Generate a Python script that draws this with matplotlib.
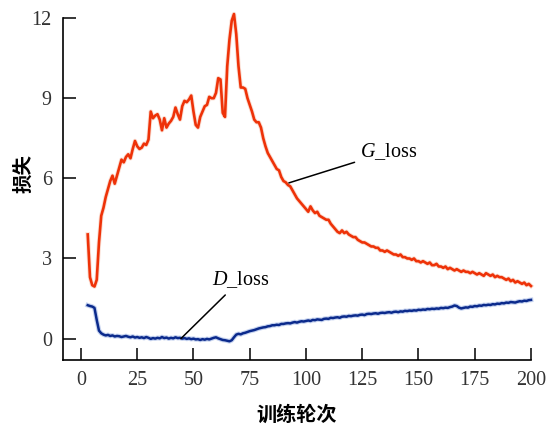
import matplotlib
matplotlib.use("Agg")
import matplotlib.pyplot as plt

plt.rcParams['font.family'] = ['Liberation Serif', 'Noto Sans CJK SC']
plt.rcParams['mathtext.fontset'] = 'custom'
plt.rcParams['mathtext.it'] = 'Liberation Serif:italic'
plt.rcParams['mathtext.rm'] = 'Liberation Serif'

epochs = list(range(3, 201))

g_loss = [
    3.9, 2.3, 2.0, 1.95, 2.2, 3.6, 4.6, 4.9, 5.3, 5.6,          # 3-12
    5.9, 6.1, 5.8, 6.1, 6.4, 6.7, 6.6, 6.8, 6.9, 6.75,          # 13-22
    7.1, 7.4, 7.2, 7.1, 7.15, 7.3, 7.25, 7.45, 8.5, 8.25,        # 23-32
    8.35, 8.4, 8.2, 7.8, 8.25, 7.9, 8.05, 8.15, 8.3, 8.65,      # 33-42
    8.4, 8.2, 8.7, 8.9, 8.85, 8.95, 9.1, 8.5, 8.0, 7.9,         # 43-52
    8.3, 8.5, 8.7, 8.75, 9.05, 9.0, 9.0, 9.2, 9.75, 9.7,        # 53-62
    8.45, 8.3, 10.2, 11.2, 11.9, 12.15, 11.4, 10.2, 9.4, 9.4,   # 63-72
    9.35, 9.0, 8.75, 8.5, 8.2, 8.1, 8.1, 7.9, 7.5, 7.2,         # 73-82
    6.95, 6.8, 6.65, 6.5, 6.35, 6.3, 6.05, 5.9, 5.85, 5.75,     # 83-92
    5.7, 5.55, 5.4, 5.25, 5.15, 5.05, 4.95, 4.85, 4.75, 4.95,   # 93-102
    4.8, 4.7, 4.75, 4.6, 4.55, 4.5, 4.45, 4.45, 4.3, 4.2,       # 103-112
    4.1, 4.0, 3.95, 4.05, 3.95, 4.0, 3.9, 3.85, 3.8, 3.8,       # 113-122
    3.7, 3.65, 3.6, 3.6, 3.55, 3.5, 3.45, 3.45, 3.4, 3.4,       # 123-132
    3.3, 3.3, 3.25, 3.3, 3.25, 3.2, 3.15, 3.15, 3.1, 3.15,      # 133-142
    3.05, 3.05, 3.0, 3.0, 2.95, 3.0, 2.9, 2.9, 2.85, 2.9,       # 143-152
    2.85, 2.8, 2.85, 2.75, 2.75, 2.8, 2.7, 2.7, 2.65, 2.7,      # 153-162
    2.6, 2.65, 2.6, 2.55, 2.6, 2.55, 2.5, 2.55, 2.5, 2.5,       # 163-172
    2.45, 2.5, 2.45, 2.4, 2.45, 2.4, 2.35, 2.45, 2.4, 2.35,     # 173-182
    2.4, 2.3, 2.35, 2.3, 2.3, 2.25, 2.2, 2.25, 2.15, 2.2,       # 183-192
    2.1, 2.15, 2.1, 2.05, 2.1, 2.0, 2.05, 1.97,                 # 193-200
]

d_loss = [
    1.25, 1.22, 1.2, 1.15, 0.7, 0.3, 0.2, 0.15, 0.12, 0.14,     # 3-12
    0.1, 0.12, 0.08, 0.1, 0.09, 0.06, 0.08, 0.1, 0.07, 0.05,    # 13-22
    0.08, 0.04, 0.06, 0.03, 0.05, 0.02, 0.06, 0.03, -0.01, 0.02,  # 23-32
    0.0, 0.03, 0.01, 0.06, 0.02, 0.04, 0.0, 0.03, 0.01, 0.05,   # 33-42
    0.02, 0.03, 0.0, 0.02, -0.01, 0.01, -0.02, 0.0, -0.03, -0.02,  # 43-52
    -0.05, -0.02, -0.04, -0.01, -0.03, 0.0, 0.03, 0.05, 0.01, -0.02,  # 53-62
    -0.05, -0.06, -0.08, -0.1, -0.06, 0.05, 0.15, 0.18, 0.16, 0.2,  # 63-72
    0.22, 0.25, 0.28, 0.3, 0.32, 0.35, 0.38, 0.4, 0.42, 0.43,   # 73-82
    0.46, 0.47, 0.5, 0.5, 0.52, 0.51, 0.55, 0.55, 0.57, 0.58,   # 83-92
    0.57, 0.6, 0.62, 0.6, 0.63, 0.65, 0.64, 0.66, 0.68, 0.66,   # 93-102
    0.7, 0.69, 0.72, 0.71, 0.7, 0.74, 0.75, 0.74, 0.78, 0.77,   # 103-112
    0.79, 0.8, 0.78, 0.82, 0.83, 0.82, 0.85, 0.84, 0.86, 0.87,  # 113-122
    0.86, 0.89, 0.9, 0.88, 0.92, 0.93, 0.92, 0.94, 0.95, 0.93,  # 123-132
    0.96, 0.97, 0.96, 0.98, 0.99, 0.97, 1.0, 1.01, 0.99, 1.02,  # 133-142
    1.01, 1.04, 1.03, 1.05, 1.04, 1.06, 1.05, 1.08, 1.07, 1.09,  # 143-152
    1.08, 1.11, 1.1, 1.12, 1.11, 1.13, 1.12, 1.15, 1.14, 1.16,  # 153-162
    1.15, 1.18, 1.2, 1.24, 1.22, 1.16, 1.13, 1.15, 1.17, 1.16,  # 163-172
    1.2, 1.19, 1.22, 1.21, 1.24, 1.23, 1.26, 1.25, 1.27, 1.26,  # 173-182
    1.29, 1.28, 1.31, 1.3, 1.33, 1.32, 1.35, 1.34, 1.37, 1.36,  # 183-192
    1.35, 1.38, 1.4, 1.39, 1.42, 1.41, 1.44, 1.45,              # 193-200
]

x_ticks = [0, 25, 50, 75, 100, 125, 150, 175, 200]
y_ticks = [0, 3, 6, 9, 12]

fig = plt.figure(figsize=(5.51, 4.30), dpi=100)
ax = fig.add_axes([0.1143, 0.1628, 0.8494, 0.7952])

# D_loss with soft halo
ax.plot(epochs, d_loss, color='#8fa8e0', lw=3.4, alpha=0.5, clip_on=False)
ax.plot(epochs, d_loss, color='#0b2a8c', lw=1.8, clip_on=False)
ax.plot(epochs, g_loss, color='#f2a080', lw=3.2, alpha=0.35, clip_on=False)
ax.plot(epochs, g_loss, color='#ee3208', lw=1.9, clip_on=False)

ax.set_xlim(-8, 200)
ax.set_ylim(-0.8, 12)
ax.set_xticks(x_ticks)
ax.set_yticks(y_ticks)
ax.tick_params(direction='in', length=9, width=1.1, labelsize=14.5,
               labelcolor='#333333', pad=8)
for s in ['top', 'right']:
    ax.spines[s].set_visible(False)
for s in ['left', 'bottom']:
    ax.spines[s].set_linewidth(1.2)

ax.set_xlabel('训练轮次', family=['Noto Sans CJK SC'], fontweight='bold',
              fontsize=14.5, labelpad=10)
ax.set_ylabel('损失', family=['Noto Sans CJK SC'], fontweight='bold',
              fontsize=14)
ax.yaxis.set_label_coords(-0.064, 0.545)

ax.annotate('$G$_loss', xy=(92.4, 5.83), xytext=(124, 7.0),
            fontsize=14.5, va='center', ha='left',
            arrowprops=dict(arrowstyle='-', color='black', lw=1.1,
                            shrinkA=2, shrinkB=0))
ax.annotate('$D$_loss', xy=(44.4, 0.0), xytext=(58.2, 2.2),
            fontsize=14.5, va='center', ha='left',
            arrowprops=dict(arrowstyle='-', color='black', lw=1.1,
                            shrinkA=2, shrinkB=0))

fig.savefig('out.png', dpi=100)
